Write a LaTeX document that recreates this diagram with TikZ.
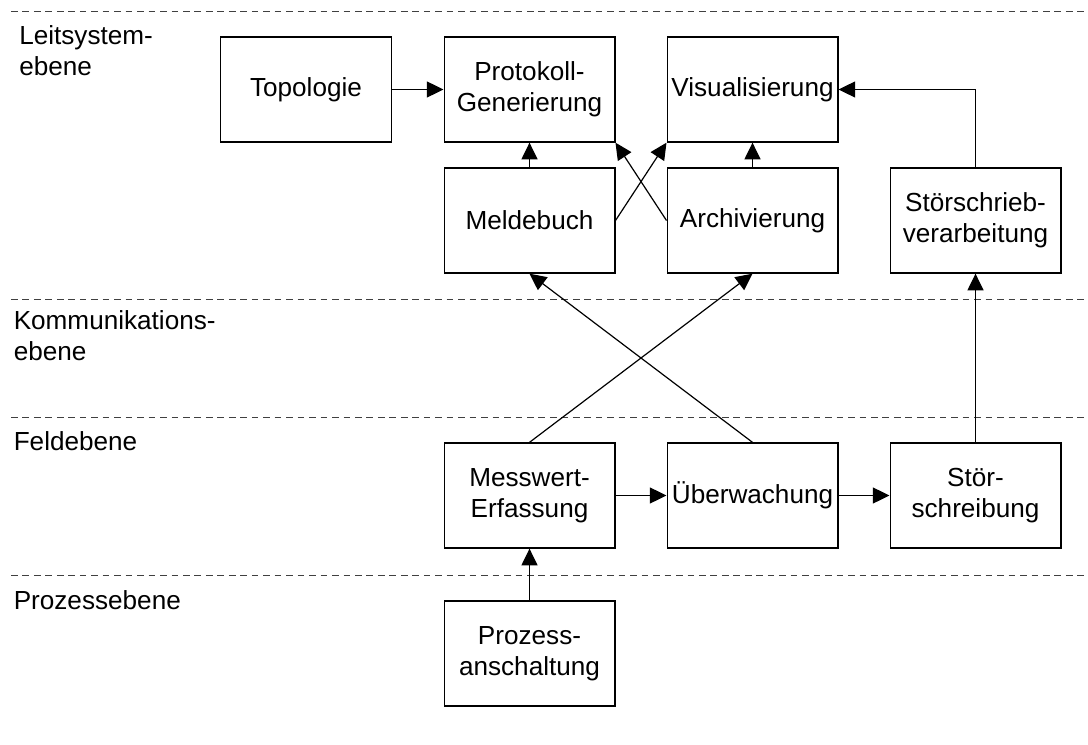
\documentclass[tikz,border=0pt]{standalone}
\usepackage{fontspec}
\setmainfont{Liberation Sans}
\usetikzlibrary{arrows.meta}
\begin{document}
\begin{tikzpicture}[x=0.75pt,y=-0.75pt,
  box/.style={draw, line width=1pt, minimum width=128pt, minimum height=78.75pt,
    inner sep=0pt, align=center, font=\fontsize{19.6}{23.4}\selectfont},
  conn/.style={line width=0.9pt, -{Triangle[length=12.5pt,width=12pt]}},
  level/.style={draw=black!75, line width=0.8pt, dash pattern=on 5pt off 3.6pt},
  lbl/.style={anchor=north west, inner sep=0pt, align=left,
    font=\fontsize{19.6}{23.4}\selectfont}]
\useasboundingbox (0,0) rectangle (1088,745);

% level separators
\draw[level] (11,11.7) -- (1086,11.7);
\draw[level] (11,299.3) -- (1086,299.3);
\draw[level] (11,417.5) -- (1086,417.5);
\draw[level] (11,575.8) -- (1086,575.8);

% level labels
\node[lbl] (lleit) at (19,25) {Leitsystem-\\ebene};
\node[lbl] (lkomm) at (13.5,310.5) {Kommunikations-\\ebene};
\node[lbl] (lfeld) at (13.5,431.5) {Feldebene};
\node[lbl] (lproz) at (13.5,590) {Prozessebene};

% boxes
\node[box] (topo)   at (306,89.5)   {Topologie};
\node[box] (proto)  at (529.5,89.5) {Protokoll-\\Generierung};
\node[box] (vis)    at (752.5,89.5) {Visualisierung};
\node[box] (melde)  at (529.5,220.5) {Meldebuch};
\node[box] (archiv) at (752.5,220.5) {Archivierung};
\node[box] (svera)  at (975.5,220.5) {Störschrieb-\\verarbeitung};
\node[box] (mess)   at (529.5,495.5) {Messwert-\\Erfassung};
\node[box] (ueber)  at (752.5,495.5) {Überwachung};
\node[box] (stoer)  at (975.5,495.5) {Stör-\\schreibung};
\node[box] (proz)   at (529.5,653.5) {Prozess-\\anschaltung};

% connectors
\draw[conn] (topo) -- (proto);
\draw[conn] (melde) -- (proto);
\draw[conn] (archiv) -- (vis);
\draw[conn] (melde.east) -- (vis.south west);
\draw[conn] (archiv.west) -- (proto.south east);
\draw[conn] (svera.north) |- (vis.east);
\draw[conn] (mess.north) -- (archiv.south);
\draw[conn] (ueber.north) -- (melde.south);
\draw[conn] (stoer) -- (svera);
\draw[conn] (mess) -- (ueber);
\draw[conn] (ueber) -- (stoer);
\draw[conn] (proz) -- (mess);
\end{tikzpicture}
\end{document}
